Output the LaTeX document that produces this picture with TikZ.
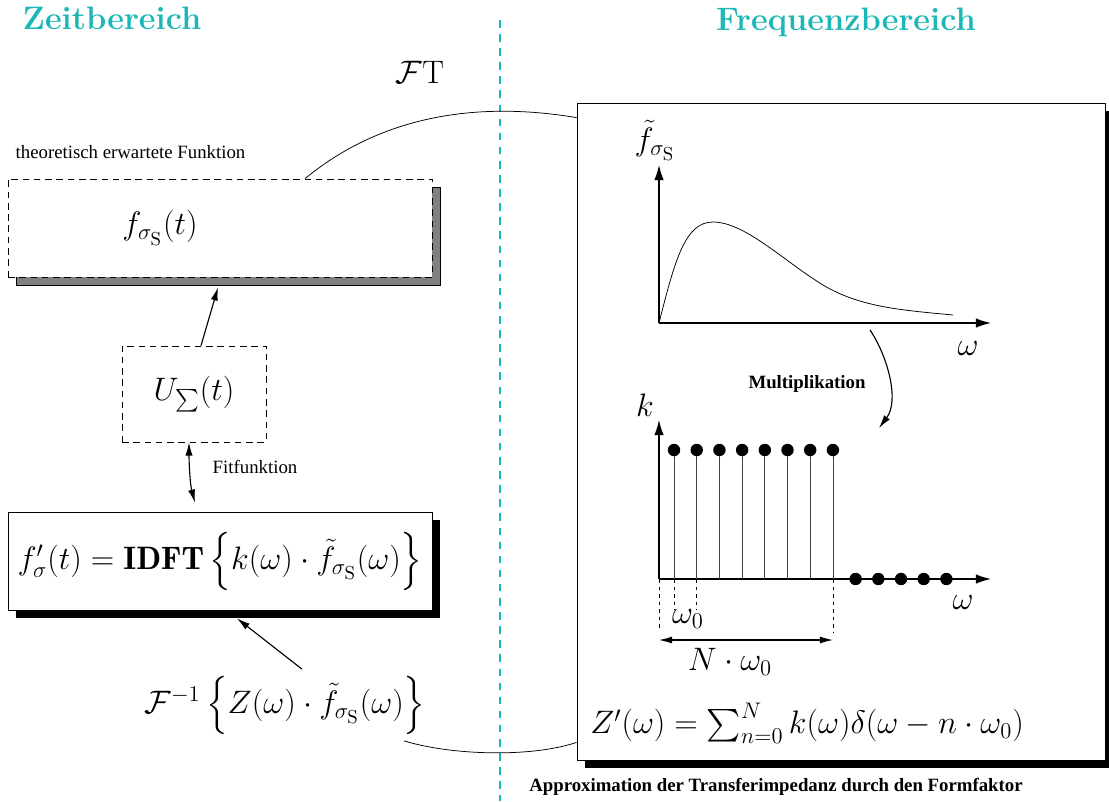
\documentclass[tikz,border=0pt]{standalone}
\usepackage{amsmath}
\usepackage{fontspec}
\usetikzlibrary{calc,arrows.meta,positioning,shadows}
\newfontfamily\timesrm{Liberation Serif}
\definecolor{regioncyan}{RGB}{30,183,183}
\newcommand{\pxl}{0.532pt}
\tikzset{
  conn/.style={-{Latex[length=7pt,width=3.8pt]}, semithick},
  dconn/.style={{Latex[length=7pt,width=3.8pt]}-{Latex[length=7pt,width=3.8pt]}, semithick},
  graphaxis/.style={-{Latex[length=8pt,width=5pt]}, line width=0.7pt},
  dashbox/.style={draw, dash pattern=on 3.5pt off 2.5pt, fill=white, inner sep=0pt},
  solidbox/.style={draw, fill=white, inner sep=0pt},
  grayshadow/.style={general shadow={fill=gray, draw=black, solid, shadow xshift=4.3pt, shadow yshift=-4.3pt}},
  blackshadow/.style={general shadow={fill=black, solid, shadow xshift=4.3pt, shadow yshift=-4.3pt}},
  regiontitle/.style={font=\LARGE\bfseries, text=regioncyan},
  note/.style={font=\timesrm\normalsize},
  boldnote/.style={font=\timesrm\bfseries\normalsize},
  divider/.style={regioncyan, line width=1pt, dash pattern=on 4pt off 3.5pt},
  stem/.style={black!75, thin},
  dotmark/.style={circle, fill=black, inner sep=0pt, minimum size=6.6pt},
  guide/.style={thin, dash pattern=on 2pt off 2pt}
}

\begin{document}
\begin{tikzpicture}[x=\pxl, y=-\pxl]
  \useasboundingbox (0,0) rectangle (1109,801);
  % Zeit- und Frequenzbereich
  \node[regiontitle] (zeit) at (112,18) {Zeitbereich};
  \node[regiontitle] (freq) at (846,22) {Frequenzbereich};
  \draw[divider] (500,20) -- (500,801);
  \node (ftlabel) at (420,72) {\LARGE$\mathcal{F}$T};

  % linke Seite
  \node[note, anchor=west] (theo) at (9,152) {theoretisch erwartete Funktion};
  \node[dashbox, grayshadow, minimum width=424*\pxl, minimum height=98*\pxl] (fbox) at (220,228) {};
  \node (fsig) at (160,228) {\LARGE$f_{\sigma_\mathrm{S}}(t)$};
  \node[dashbox, minimum width=144*\pxl, minimum height=96*\pxl] (ubox) at (194,394) {\LARGE$U_{\sum}(t)$};
  \node[note] (fitlabel) at (255,467) {Fitfunktion};
  \node[solidbox, blackshadow, minimum width=424*\pxl, minimum height=98*\pxl] (idftbox) at (220,561)
    {\LARGE$f'_\sigma(t) = \mathbf{IDFT}\left\{k(\omega)\cdot\tilde{f}_{\sigma_\mathrm{S}}(\omega)\right\}$};
  \node (finv) at (285,705) {\LARGE$\mathcal{F}^{-1}\left\{Z(\omega)\cdot\tilde{f}_{\sigma_\mathrm{S}}(\omega)\right\}$};

  \draw[conn] ($(ubox.north)+(7,0)$) -- ($(fbox.south)+(-2,10)$);
  \draw[dconn] ($(ubox.south)+(-5,0)$) .. controls (189,462) and (190,484) .. ($(idftbox.north)+(-25,-9)$);
  \draw[conn] ($(finv.north)+(17,0)$) -- ($(idftbox.south)+(17,8)$);

  % rechte Seite
  \node[solidbox, blackshadow, minimum width=528*\pxl, minimum height=657*\pxl] (freqpanel) at (841,431.5) {};
  \draw ($(fbox.north)+(85,0)$) .. controls (370,125) and (460,98) .. ($(freqpanel.north west)+(0,15)$);
  \draw ($(finv.south east)+(-28,0)$) .. controls (450,755) and (530,758) .. ($(freqpanel.south west)+(0,-18)$);

  % Spektrum
  \coordinate (spo) at (659,323);
  \coordinate (spx) at (991,323);
  \coordinate (spy) at (659,165);
  \draw[graphaxis] (spo) -- (spx);
  \draw[graphaxis] (spo) -- (spy);
  \node (spylabel) at (655,141) {\LARGE$\tilde{f}_{\sigma_\mathrm{S}}$};
  \node (spxlabel) at (968,348) {\LARGE$\omega$};
  \draw (spo) .. controls (675,260) and (685,222) .. (713,222)
    .. controls (745,222) and (785,262) .. (823,285)
    .. controls (860,307) and (900,310) .. (953,315);

  \coordinate (multstart) at (870,330);
  \coordinate (multend) at (879,428);
  \draw[conn] (multstart) .. controls (887,355) and (900,400) .. (multend);
  \node[boldnote] (multlabel) at (807,384) {Multiplikation};

  % Formfaktor
  \coordinate (ko) at (659,579);
  \coordinate (kx) at (991,579);
  \coordinate (ky) at (659,420);
  \draw[graphaxis] (ko) -- (kx);
  \draw[graphaxis] (ko) -- (ky);
  \foreach \i in {0,...,7}{\draw[stem] ({674+22.7*\i},579) -- ({674+22.7*\i},450) node[dotmark] (kdot\i) {};}
  \foreach \i in {0,...,4}{\node[dotmark] (zdot\i) at ({855.6+22.7*\i},579) {};}
  \node (klabel) at (645,405) {\LARGE$k$};
  \node (kxlabel) at (963,602) {\LARGE$\omega$};

  \draw[guide] (ko) -- (659,628);
  \draw[guide] (674,579) -- (674,610);
  \draw[guide] (696.7,579) -- (696.7,610);
  \draw[guide] (832.9,579) -- (832.9,633);
  \node (wlabel) at (688,619) {\LARGE$\omega_0$};
  \coordinate (nleft) at (659,640);
  \coordinate (nright) at (832.9,640);
  \draw[dconn] (nleft) -- (nright);
  \node (nlabel) at (730,662) {\LARGE$N\cdot\omega_0$};

  \node (zsum) at (807,723) {\LARGE$Z'(\omega) = \sum_{n=0}^{N} k(\omega)\delta(\omega - n\cdot\omega_0)$};
  \node[boldnote] (capt) at (776,787) {Approximation der Transferimpedanz durch den Formfaktor};
\end{tikzpicture}
\end{document}
